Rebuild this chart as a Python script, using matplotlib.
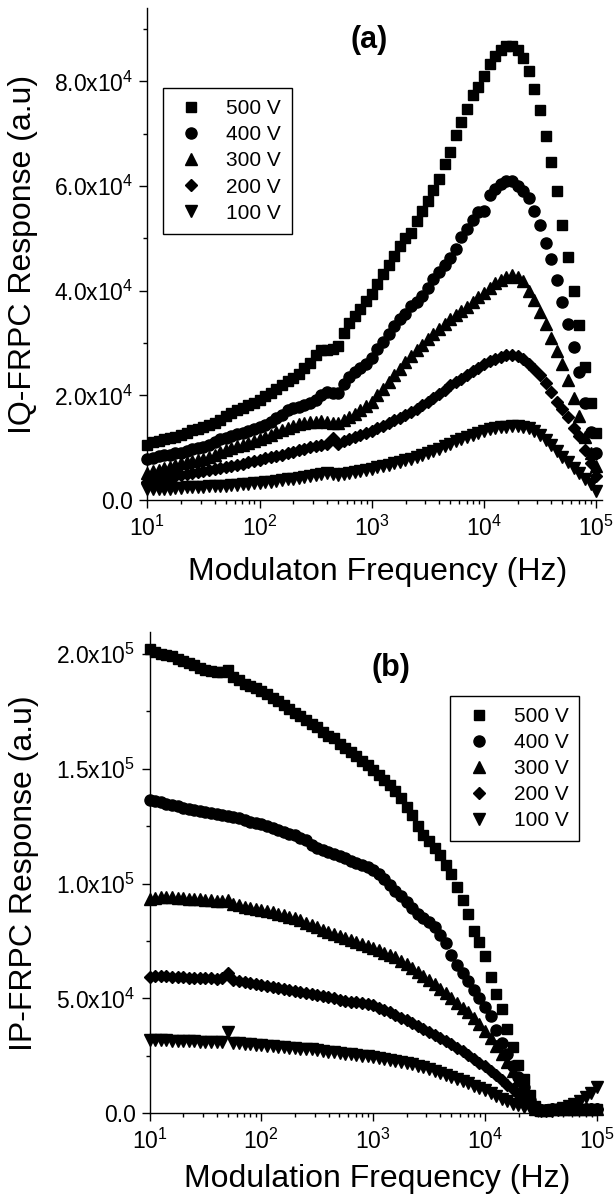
import numpy as np
import matplotlib
matplotlib.use('Agg')
import matplotlib.pyplot as plt
from matplotlib.ticker import AutoMinorLocator, LogLocator, NullFormatter

plt.rcParams['font.family'] = 'Liberation Sans'
plt.rcParams['mathtext.fontset'] = 'custom'
plt.rcParams['mathtext.rm'] = 'Liberation Sans'
plt.rcParams['mathtext.it'] = 'Liberation Sans:italic'
plt.rcParams['mathtext.bf'] = 'Liberation Sans:bold'

# modulation frequency (Hz), 20 points per decade
freq = [10, 11.2, 12.6, 14.1, 15.8, 17.8, 20.0, 22.4, 25.1, 28.2, 31.6, 35.5, 39.8, 44.7, 50.1, 56.2, 63.1, 70.8, 79.4, 89.1,
        100, 112, 126, 141, 158, 178, 200, 224, 251, 282, 316, 355, 398, 447, 501, 562, 631, 708, 794, 891,
        1000, 1122, 1259, 1413, 1585, 1778, 1995, 2239, 2512, 2818, 3162, 3548, 3981, 4467, 5012, 5623, 6310, 7079, 7943, 8913,
        10000, 11220, 12590, 14130, 15850, 17780, 19950, 22390, 25120, 28180, 31620, 35480, 39810, 44670, 50120, 56230, 63100, 70790, 79430, 89130,
        100000]

labels = ['500 V', '400 V', '300 V', '200 V', '100 V']
markers = ['s', 'o', '^', 'D', 'v']
msizes = [7.5, 8, 9, 6.5, 9]

# (a) quadrature response, in units of 1e4
iq_500 = [1.05, 1.10, 1.13, 1.16, 1.18, 1.21, 1.24, 1.28, 1.33, 1.36, 1.40, 1.44, 1.47, 1.52, 1.60, 1.66, 1.72, 1.76, 1.81, 1.86,
          1.92, 1.98, 2.05, 2.12, 2.20, 2.28, 2.33, 2.40, 2.52, 2.62, 2.78, 2.86, 2.87, 2.88, 2.95, 3.20, 3.38, 3.52, 3.65, 3.80,
          3.94, 4.12, 4.32, 4.50, 4.66, 4.85, 5.00, 5.10, 5.33, 5.52, 5.72, 5.92, 6.14, 6.42, 6.65, 6.97, 7.22, 7.48, 7.74, 7.90,
          8.10, 8.34, 8.48, 8.60, 8.67, 8.67, 8.60, 8.45, 8.20, 7.85, 7.45, 6.95, 6.45, 5.90, 5.25, 4.65, 4.00, 3.35, 2.55, 1.85,
          1.28]
iq_400 = [0.78, 0.80, 0.84, 0.86, 0.87, 0.89, 0.90, 0.94, 0.97, 1.00, 1.02, 1.05, 1.10, 1.16, 1.19, 1.22, 1.26, 1.29, 1.32, 1.36,
          1.40, 1.44, 1.50, 1.56, 1.62, 1.72, 1.76, 1.78, 1.81, 1.86, 1.92, 2.00, 2.06, 2.05, 2.05, 2.22, 2.35, 2.44, 2.52, 2.60,
          2.72, 2.88, 3.02, 3.18, 3.32, 3.45, 3.56, 3.70, 3.78, 3.90, 4.06, 4.22, 4.36, 4.50, 4.63, 4.80, 5.03, 5.17, 5.35, 5.50,
          5.52, 5.82, 5.95, 6.04, 6.10, 6.10, 6.00, 5.90, 5.78, 5.52, 5.25, 4.92, 4.60, 4.20, 3.78, 3.36, 2.92, 2.45, 1.85, 1.30,
          0.90]
iq_300 = [0.52, 0.55, 0.58, 0.61, 0.64, 0.67, 0.70, 0.72, 0.74, 0.76, 0.78, 0.82, 0.86, 0.92, 0.96, 0.99, 1.03, 1.06, 1.09, 1.12,
          1.16, 1.20, 1.25, 1.30, 1.34, 1.38, 1.42, 1.45, 1.47, 1.49, 1.50, 1.51, 1.50, 1.48, 1.48, 1.52, 1.58, 1.65, 1.72, 1.80,
          1.88, 2.00, 2.12, 2.26, 2.38, 2.50, 2.63, 2.75, 2.86, 2.96, 3.07, 3.17, 3.27, 3.36, 3.45, 3.53, 3.61, 3.68, 3.78, 3.88,
          3.95, 4.05, 4.14, 4.20, 4.26, 4.29, 4.26, 4.18, 4.00, 3.82, 3.60, 3.37, 3.10, 2.85, 2.60, 2.30, 1.95, 1.60, 1.20, 0.90,
          0.65]
iq_200 = [0.35, 0.37, 0.39, 0.41, 0.43, 0.45, 0.48, 0.50, 0.52, 0.54, 0.56, 0.58, 0.60, 0.62, 0.63, 0.65, 0.67, 0.69, 0.72, 0.75,
          0.77, 0.80, 0.82, 0.85, 0.87, 0.89, 0.92, 0.95, 0.98, 1.01, 1.03, 1.05, 1.08, 1.18, 1.08, 1.12, 1.16, 1.20, 1.24, 1.28,
          1.32, 1.37, 1.42, 1.47, 1.52, 1.57, 1.62, 1.68, 1.74, 1.81, 1.87, 1.95, 2.03, 2.11, 2.19, 2.26, 2.32, 2.39, 2.46, 2.53,
          2.60, 2.65, 2.70, 2.74, 2.77, 2.78, 2.76, 2.70, 2.60, 2.50, 2.38, 2.24, 2.06, 1.88, 1.74, 1.59, 1.38, 1.22, 0.95, 0.70,
          0.45]
iq_100 = [0.22, 0.22, 0.22, 0.22, 0.22, 0.23, 0.23, 0.24, 0.24, 0.25, 0.25, 0.26, 0.26, 0.27, 0.27, 0.28, 0.29, 0.30, 0.31, 0.32,
          0.33, 0.34, 0.35, 0.37, 0.38, 0.40, 0.41, 0.43, 0.44, 0.46, 0.48, 0.50, 0.51, 0.49, 0.48, 0.50, 0.52, 0.54, 0.56, 0.58,
          0.60, 0.63, 0.65, 0.67, 0.70, 0.73, 0.76, 0.79, 0.83, 0.86, 0.90, 0.94, 0.98, 1.03, 1.08, 1.12, 1.16, 1.20, 1.24, 1.28,
          1.32, 1.35, 1.37, 1.39, 1.40, 1.41, 1.41, 1.40, 1.37, 1.32, 1.25, 1.15, 1.05, 0.93, 0.83, 0.72, 0.62, 0.51, 0.41, 0.30,
          0.18]

# (b) in-phase response, in units of 1e4
ip_500 = [20.2, 20.1, 20.0, 19.95, 19.9, 19.8, 19.7, 19.6, 19.5, 19.4, 19.3, 19.25, 19.2, 19.2, 19.3, 19.0, 18.85, 18.7, 18.6, 18.5,
          18.4, 18.25, 18.1, 17.95, 17.8, 17.62, 17.45, 17.3, 17.12, 16.95, 16.8, 16.62, 16.45, 16.35, 16.1, 15.92, 15.75, 15.55, 15.35, 15.15,
          14.95, 14.75, 14.5, 14.28, 14.05, 13.75, 13.35, 13.0, 12.5, 12.1, 11.85, 11.55, 11.25, 10.8, 10.4, 9.85, 9.3, 8.7, 7.95, 7.45,
          6.85, 5.95, 5.2, 4.55, 3.65, 2.9, 2.1, 1.5, 0.8, 0.3, 0.15, 0.15, 0.18, 0.2, 0.2, 0.2, 0.2, 0.2, 0.2, 0.2,
          0.2]
ip_400 = [13.65, 13.62, 13.55, 13.48, 13.42, 13.36, 13.30, 13.26, 13.22, 13.18, 13.14, 13.08, 13.03, 12.98, 12.94, 12.90, 12.84, 12.77, 12.70, 12.64,
          12.58, 12.50, 12.42, 12.34, 12.26, 12.18, 12.10, 12.00, 11.88, 11.70, 11.55, 11.45, 11.38, 11.30, 11.20, 11.12, 11.00, 10.90, 10.80, 10.72,
          10.60, 10.40, 10.20, 9.95, 9.70, 9.45, 9.20, 8.95, 8.70, 8.50, 8.35, 8.10, 7.78, 7.42, 6.90, 6.45, 6.10, 5.74, 5.37, 5.00,
          4.64, 4.22, 3.62, 3.08, 2.57, 2.08, 1.58, 1.14, 0.60, 0.22, 0.15, 0.15, 0.18, 0.2, 0.2, 0.2, 0.2, 0.2, 0.2, 0.2,
          0.2]
ip_300 = [9.35, 9.38, 9.40, 9.40, 9.40, 9.38, 9.36, 9.35, 9.34, 9.33, 9.30, 9.28, 9.25, 9.25, 9.30, 9.10, 9.05, 9.00, 8.95, 8.88,
          8.85, 8.80, 8.75, 8.68, 8.62, 8.56, 8.50, 8.40, 8.30, 8.20, 8.10, 7.98, 7.90, 7.82, 7.74, 7.64, 7.55, 7.46, 7.36, 7.28,
          7.20, 7.10, 7.00, 6.90, 6.80, 6.65, 6.50, 6.33, 6.15, 5.97, 5.80, 5.62, 5.42, 5.22, 5.02, 4.80, 4.60, 4.40, 4.15, 3.88,
          3.60, 3.30, 2.95, 2.60, 2.25, 1.85, 1.45, 1.00, 0.55, 0.18, 0.15, 0.15, 0.18, 0.2, 0.2, 0.2, 0.2, 0.2, 0.2, 0.2,
          0.2]
ip_200 = [5.95, 5.97, 5.97, 5.96, 5.95, 5.94, 5.92, 5.91, 5.90, 5.89, 5.88, 5.87, 5.86, 5.90, 6.10, 5.80, 5.76, 5.71, 5.67, 5.62,
          5.58, 5.54, 5.50, 5.46, 5.42, 5.38, 5.34, 5.30, 5.25, 5.20, 5.15, 5.10, 5.05, 5.00, 4.95, 4.90, 4.86, 4.83, 4.80, 4.75,
          4.70, 4.60, 4.50, 4.39, 4.28, 4.17, 4.05, 3.93, 3.80, 3.68, 3.55, 3.43, 3.30, 3.15, 3.00, 2.85, 2.70, 2.52, 2.35, 2.20,
          2.05, 1.85, 1.65, 1.45, 1.25, 1.05, 0.85, 0.62, 0.42, 0.20, 0.15, 0.15, 0.18, 0.2, 0.2, 0.2, 0.2, 0.2, 0.2, 0.2,
          0.2]
ip_100 = [3.20, 3.19, 3.18, 3.18, 3.17, 3.16, 3.15, 3.14, 3.13, 3.12, 3.11, 3.10, 3.10, 3.12, 3.55, 3.06, 3.04, 3.02, 3.00, 2.98,
          2.96, 2.94, 2.92, 2.90, 2.88, 2.86, 2.84, 2.82, 2.80, 2.78, 2.75, 2.72, 2.69, 2.66, 2.63, 2.60, 2.57, 2.54, 2.51, 2.48,
          2.45, 2.41, 2.37, 2.33, 2.29, 2.25, 2.20, 2.14, 2.07, 2.00, 1.92, 1.84, 1.76, 1.67, 1.58, 1.49, 1.40, 1.30, 1.20, 1.10,
          1.00, 0.88, 0.76, 0.63, 0.52, 0.42, 0.34, 0.27, 0.21, 0.15, 0.10, 0.08, 0.10, 0.15, 0.22, 0.30, 0.40, 0.52, 0.70, 0.90,
          1.15]

iq_data = [iq_500, iq_400, iq_300, iq_200, iq_100]
ip_data = [ip_500, ip_400, ip_300, ip_200, ip_100]

fig = plt.figure(figsize=(6.14, 11.98), dpi=100)
ax1 = fig.add_axes([0.240, 0.5826, 0.740, 0.4107])
ax2 = fig.add_axes([0.2435, 0.0707, 0.7357, 0.4014])

# plot ax1
for k in range(5):
    ax1.plot(freq, np.array(iq_data[k]) * 1e4, ls='none', marker=markers[k], ms=msizes[k],
             color='k', label=labels[k], clip_on=False)
# plot ax2
for k in range(5):
    ax2.plot(freq, np.array(ip_data[k]) * 1e4, ls='none', marker=markers[k], ms=msizes[k],
             color='k', label=labels[k], clip_on=False)

ax1.set_xscale('log')
ax2.set_xscale('log')
ax1.set_xlim(10, 10**5.05)
ax2.set_xlim(10, 10**5.04)
ax1.set_ylim(0, 9.4e4)
ax2.set_ylim(0, 2.094e5)

ax1.set_yticks([0, 2e4, 4e4, 6e4, 8e4],
               ['0.0', '2.0x10$^4$', '4.0x10$^4$', '6.0x10$^4$', '8.0x10$^4$'])
ax2.set_yticks([0, 5e4, 1e5, 1.5e5, 2e5],
               ['0.0', '5.0x10$^4$', '1.0x10$^5$', '1.5x10$^5$', '2.0x10$^5$'])

for ax in [ax1, ax2]:
    ax.xaxis.set_major_locator(LogLocator(base=10, numticks=10))
    ax.xaxis.set_minor_locator(LogLocator(base=10, subs=np.arange(2, 10), numticks=10))
    ax.xaxis.set_minor_formatter(NullFormatter())
    ax.yaxis.set_minor_locator(AutoMinorLocator(2))
    ax.spines['top'].set_visible(False)
    ax.spines['right'].set_visible(False)
    ax.spines['left'].set_linewidth(1.0)
    ax.spines['bottom'].set_linewidth(1.0)
    ax.tick_params(which='major', direction='out', length=6, width=1, labelsize=16.5, pad=4)
    ax.tick_params(which='minor', direction='out', length=3, width=1)
    ax.tick_params(axis='x', which='major', pad=5)

ax1.set_ylabel('IQ-FRPC Response (a.u)', fontsize=23)
ax2.set_ylabel('IP-FRPC Response (a.u)', fontsize=23)
ax1.set_xlabel('Modulaton Frequency (Hz)', fontsize=23)
ax2.set_xlabel('Modulation Frequency (Hz)', fontsize=23)
ax1.yaxis.set_label_coords(-0.24, 0.5)
ax2.yaxis.set_label_coords(-0.245, 0.5)
ax1.xaxis.set_label_coords(0.507, -0.115)
ax2.xaxis.set_label_coords(0.505, -0.105)

ax1.text(0.488, 0.935, '(a)', transform=ax1.transAxes, fontsize=22, fontweight='bold',
         ha='center', va='center')
ax2.text(0.535, 0.925, '(b)', transform=ax2.transAxes, fontsize=22, fontweight='bold',
         ha='center', va='center')

leg_kw = dict(fontsize=15, numpoints=1, fancybox=False, framealpha=1, edgecolor='k',
              borderpad=0.53, labelspacing=0.34, handlelength=1.65, handletextpad=0.85,
              borderaxespad=0)
leg1 = ax1.legend(loc='upper left', bbox_to_anchor=(0.0346, 0.837), **leg_kw)
leg2 = ax2.legend(loc='upper right', bbox_to_anchor=(0.9515, 0.868), **leg_kw)
for leg in [leg1, leg2]:
    leg.get_frame().set_linewidth(1.0)

fig.savefig('out.png', dpi=100)
